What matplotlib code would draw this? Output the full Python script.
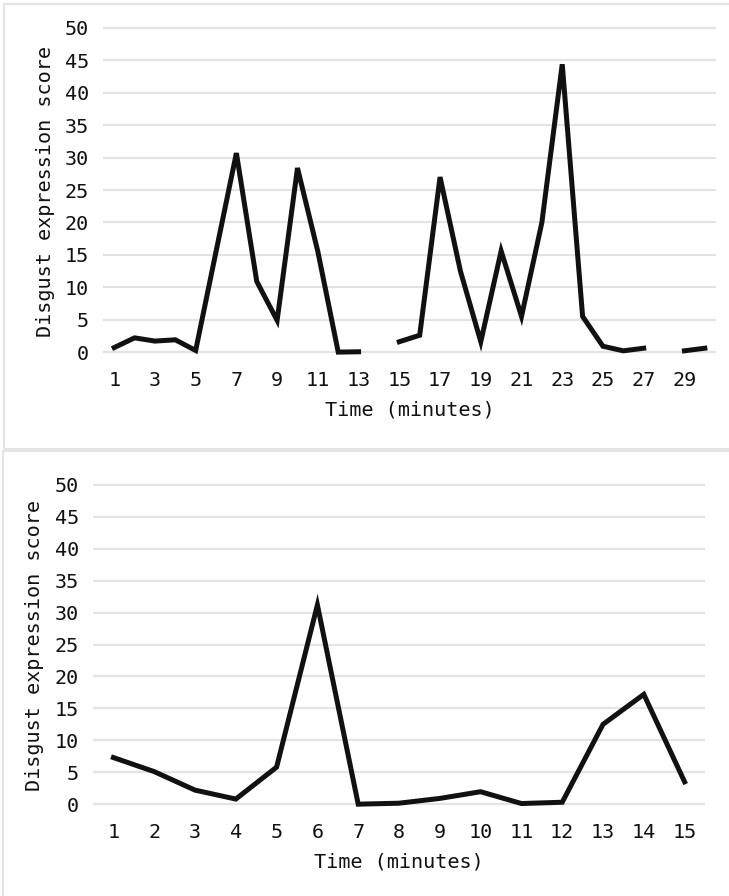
import numpy as np
import matplotlib.pyplot as plt
from matplotlib.patches import Rectangle

# top panel: 30 minutes, gaps at 14 and 28
minutes_a = list(range(1, 31))
score_a = [0.7, 2.2, 1.7, 1.9, 0.25, 15.5, 30.7, 10.9, 4.9, 28.4,
           15.5, 0.0, 0.05, np.nan, 1.6, 2.6, 27.0, 12.5, 1.6, 15.6,
           5.5, 20.0, 44.4, 5.5, 0.9, 0.2, 0.6, np.nan, 0.2, 0.6]
ticks_a = list(range(1, 30, 2))

# bottom panel: 15 minutes
minutes_b = list(range(1, 16))
score_b = [7.3, 5.1, 2.2, 0.8, 5.8, 31.2, 0.0, 0.15, 0.9, 1.95,
           0.1, 0.3, 12.5, 17.2, 3.5]
ticks_b = list(range(1, 16))

yticks = list(range(0, 51, 5))
ylab = "Disgust expression score"
xlab = "Time (minutes)"

W, H = 729, 896
FS = 14.5
plt.rcParams["font.family"] = "DejaVu Sans Mono"
fig = plt.figure(figsize=(W / 100, H / 100), dpi=100)

# panel frames
for (x0, y0, x1, y1) in [(4, 4, 735, 449), (3, 451, 735, 905)]:
    fig.patches.append(Rectangle((x0 / W, 1 - y1 / H), (x1 - x0) / W, (y1 - y0) / H,
                                 transform=fig.transFigure, fill=False,
                                 edgecolor="#e4e4e4", linewidth=1.5, zorder=0))


def panel(rect, x, y, ticks, xlim, ylab_x):
    ax = fig.add_axes(rect)
    ax.plot(x, y, color="#111111", linewidth=3.6, solid_joinstyle="miter", zorder=3)
    ax.set_xlim(*xlim)
    ax.set_ylim(-0.6, 50.3)
    ax.set_yticks(yticks)
    ax.set_xticks(ticks)
    for v in yticks:
        ax.axhline(v, color="#e3e3e3", linewidth=1.5, zorder=1)
    for s in ax.spines.values():
        s.set_visible(False)
    ax.tick_params(length=0, labelsize=FS, colors="#111111")
    ax.tick_params(axis="y", pad=10)
    ax.tick_params(axis="x", pad=11)
    ax.set_xlabel(xlab, fontsize=FS, color="#111111")
    ax.set_ylabel(ylab, fontsize=FS, color="#111111")
    ax.xaxis.label.set_verticalalignment("center")
    ax.yaxis.label.set_verticalalignment("center")
    ax.xaxis.set_label_coords(0.5, -0.165)
    ax.yaxis.set_label_coords(ylab_x, 0.5)
    return ax


panel([103 / W, 1 - 356 / H, 613 / W, 330 / H], minutes_a, score_a, ticks_a,
      (0.45, 30.55), -0.0946)
panel([93 / W, 1 - 808 / H, 612 / W, 325 / H], minutes_b, score_b, ticks_b,
      (0.5, 15.5), -0.0948)

plt.savefig("out.png", dpi=100)
plt.close()
